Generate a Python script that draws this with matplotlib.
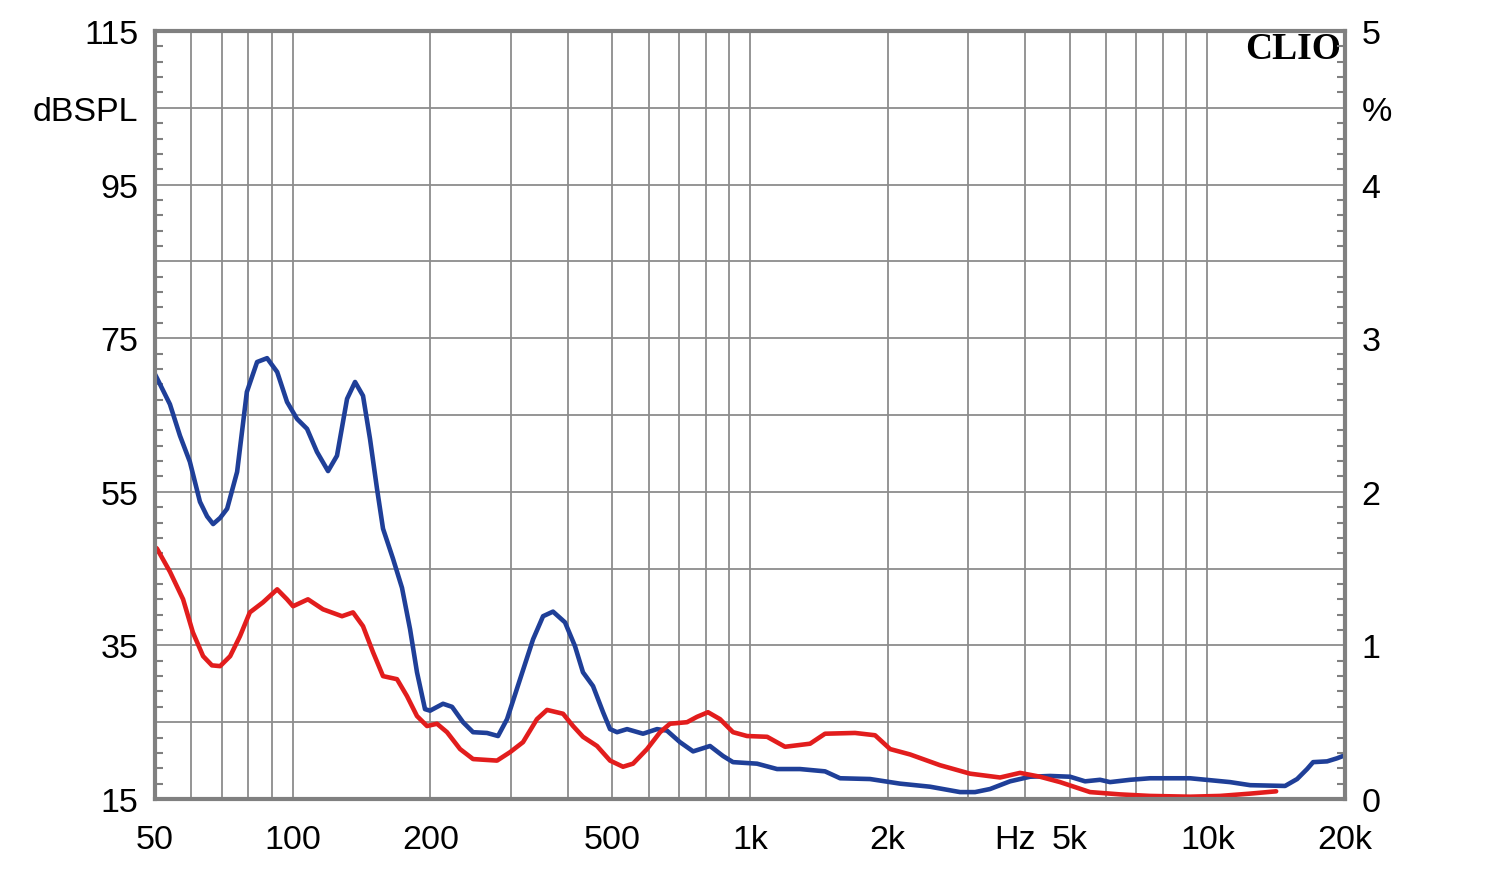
import numpy as np
import matplotlib
matplotlib.use('Agg')
import matplotlib.pyplot as plt
from matplotlib.ticker import LogLocator, NullFormatter, MultipleLocator

plt.rcParams['font.family'] = ['Liberation Sans', 'DejaVu Sans']

# Blue curve (dBSPL vs Hz)
blue_freq = [50, 50.5, 53.9, 56.7, 59.6, 62.7, 65.0, 67.0, 69.4, 71.9, 75.6, 79.4, 83.6,
             87.9, 92.5, 97.2, 102.2, 107.5, 113.0, 119.5, 125.0, 131.5, 136.9, 142.5,
             147.6, 152.9, 157.6, 165.7, 173.4, 180.6, 187.0, 194.7, 199.7, 213.2, 223.1,
             235.8, 248.0, 266.0, 281.2, 294.3, 314.2, 335.5, 352.8, 370.9, 394.0, 414.3,
             431.3, 453.7, 477.2, 494.3, 512.0, 538.5, 583.6, 626.1, 658.3, 703.0, 750.9,
             817.6, 873.0, 918.0, 1036, 1146, 1286, 1459, 1574, 1830, 2128, 2476, 2879,
             3105, 3349, 3703, 4096, 4530, 5010, 5404, 5827, 6127, 6778, 7494, 9166, 11213,
             12405, 14791, 15716, 16524, 17034, 18275, 19215, 20000]
blue_db = [70.3, 69.8, 66.4, 62.3, 58.9, 53.7, 51.8, 50.8, 51.6, 52.8, 57.6, 68.0, 71.9,
           72.4, 70.6, 66.7, 64.5, 63.2, 60.2, 57.7, 59.7, 67.1, 69.3, 67.5,
           61.9, 55.4, 50.2, 46.3, 42.5, 37.1, 31.5, 26.7, 26.5, 27.4, 27.0,
           25.0, 23.7, 23.6, 23.2, 25.4, 30.6, 35.8, 38.8, 39.4, 38.0, 34.9,
           31.5, 29.7, 26.3, 24.1, 23.7, 24.1, 23.5, 24.1, 23.9, 22.4, 21.2,
           21.9, 20.6, 19.8, 19.6, 18.9, 18.9, 18.6, 17.7, 17.6, 17.0, 16.6, 15.9,
           15.9, 16.3, 17.3, 17.9, 18.0, 17.9, 17.3, 17.5, 17.2, 17.5, 17.7, 17.7, 17.2,
           16.8, 16.7, 17.6, 18.9, 19.8, 19.9, 20.3, 20.7]

# Red curve (dBSPL vs Hz)
red_freq = [50, 50.5, 53.9, 57.6, 60.5, 63.7, 66.6, 69.4, 73.0, 76.7, 80.6, 86.1, 92.5,
            97.2, 100.2, 108.0, 116.5, 128.2, 135.5, 142.5, 149.9, 157.6, 169.1, 177.8,
            187.0, 196.7, 206.8, 217.5, 232.3, 248.0, 279.8, 298.8, 318.9, 342.1, 359.9,
            390.1, 410.3, 431.3, 462.9, 494.3, 527.6, 554.9, 595.5, 635.9, 668.4, 728.3,
            765.9, 809.4, 859.8, 918.0, 985.2, 1090, 1193, 1353, 1459, 1697, 1877, 2025,
            2239, 2603, 3028, 3522, 3894, 4308, 4764, 5541, 6445, 7494, 9166, 10666,
            12405, 14141]
red_db = [47.8, 47.6, 44.6, 41.0, 36.7, 33.6, 32.4, 32.3, 33.6, 36.2, 39.3, 40.6, 42.3,
          41.0, 40.1, 41.0, 39.7, 38.8, 39.3, 37.5, 34.1, 31.0, 30.6, 28.4,
          25.8, 24.5, 24.8, 23.7, 21.5, 20.2, 20.0, 21.1, 22.4, 25.4, 26.6,
          26.1, 24.5, 23.1, 21.9, 20.0, 19.2, 19.6, 21.5, 23.7, 24.8, 25.0,
          25.7, 26.3, 25.4, 23.7, 23.2, 23.1, 21.8, 22.2, 23.5, 23.6, 23.3, 21.5,
          20.8, 19.4, 18.3, 17.8, 18.4, 17.9, 17.2, 15.9, 15.6, 15.4, 15.3, 15.4,
          15.7, 16.0]

x_ticks = [50, 100, 200, 500, 1000, 2000, 3800, 5000, 10000, 20000]
x_labels = ['50', '100', '200', '500', '1k', '2k', 'Hz', '5k', '10k', '20k']
y_ticks = list(range(15, 116, 10))
y_labels = ['15', '', '35', '', '55', '', '75', '', '95', 'dBSPL', '115']
r_ticks = [0, 0.5, 1, 1.5, 2, 2.5, 3, 3.5, 4, 4.5, 5]
r_labels = ['0', '', '1', '', '2', '', '3', '', '4', '%', '5']

grid_c = '#8c8c8c'
frame_c = '#808080'
fs = 24.5

fig = plt.figure(figsize=(15, 8.7), dpi=100)
ax = fig.add_axes([155 / 1500, 1 - 800 / 870, 1190 / 1500, 768 / 870])

ax.plot(blue_freq, blue_db, color='#1f3f98', lw=3.3, solid_joinstyle='round',
        solid_capstyle='round', zorder=3)
ax.plot(red_freq, red_db, color='#e21d1d', lw=3.3, solid_joinstyle='round',
        solid_capstyle='round', zorder=4)

ax.set_xscale('log')
ax.set_xlim(50, 20000)
ax.set_ylim(15, 115)

ax.set_xticks(x_ticks, x_labels)
ax.xaxis.set_minor_locator(LogLocator(base=10, subs=np.arange(1, 10), numticks=30))
ax.xaxis.set_minor_formatter(NullFormatter())
ax.xaxis.remove_overlapping_locs = False
ax.grid(True, which='minor', axis='x', color=grid_c, lw=1.3)
ax.tick_params(axis='x', which='both', length=0, pad=18, labelsize=fs)

ax.set_yticks(y_ticks, y_labels)
ax.yaxis.set_minor_locator(MultipleLocator(2, offset=1))
ax.grid(True, which='major', axis='y', color=grid_c, lw=1.3)
ax.tick_params(axis='y', which='major', length=0, pad=12, labelsize=fs)
ax.tick_params(axis='y', which='minor', direction='in', length=6, width=1.5, color=frame_c)

for s in ax.spines.values():
    s.set_color(frame_c)
    s.set_linewidth(3)
    s.set_zorder(5)

ax2 = ax.twinx()
ax2.set_ylim(0, 5)
ax2.set_yticks(r_ticks, r_labels)
ax2.yaxis.set_minor_locator(MultipleLocator(0.1))
ax2.tick_params(axis='y', which='major', length=0, pad=12, labelsize=fs)
ax2.tick_params(axis='y', which='minor', direction='in', length=6, width=1.5, color=frame_c)
for s in ax2.spines.values():
    s.set_visible(False)

ax.text(0.9966, 0.977, 'CLIO', transform=ax.transAxes, ha='right', va='center',
        family=['Liberation Serif', 'DejaVu Serif'], fontweight='bold', fontsize=27,
        zorder=6)

fig.savefig('out.png', dpi=100, facecolor='white')
